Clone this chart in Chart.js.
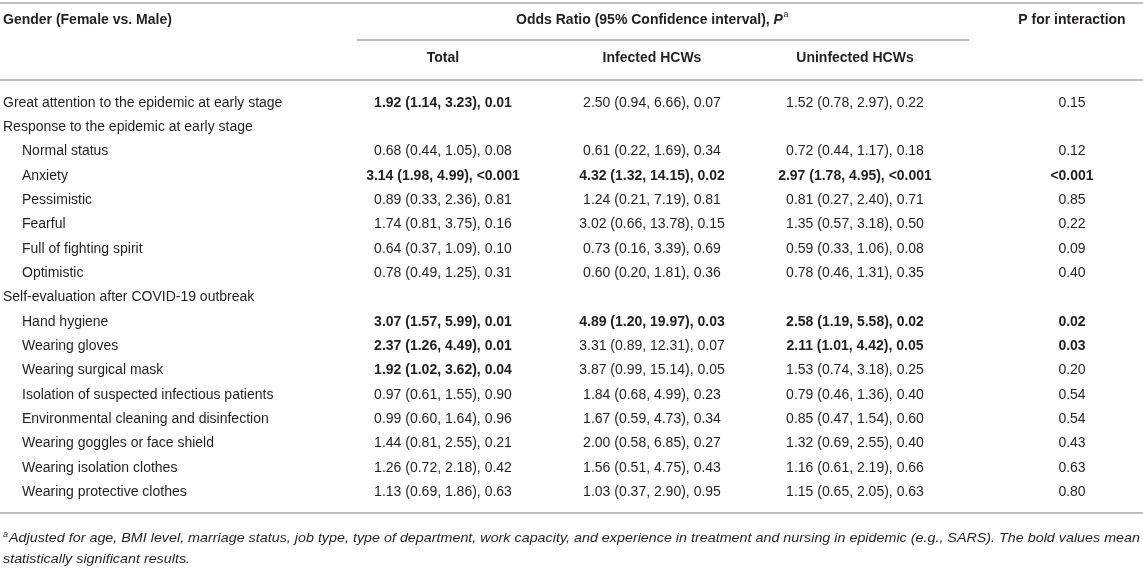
<!DOCTYPE html>
<html>
<head>
<meta charset="utf-8">
<script src="https://cdn.jsdelivr.net/npm/chart.js@4.4.1/dist/chart.umd.min.js"></script>
<style>
  html, body { margin: 0; padding: 0; background: #fff; }
  #wrap { position: relative; width: 1143px; height: 574px; }
</style>
</head>
<body>
<div id="wrap"><canvas id="tableChart"></canvas></div>
<script>
// Row labels (rows with no values are section headings)
const rowLabels = [
    'Great attention to the epidemic at early stage',
    'Response to the epidemic at early stage',
    'Normal status',
    'Anxiety',
    'Pessimistic',
    'Fearful',
    'Full of fighting spirit',
    'Optimistic',
    'Self-evaluation after COVID-19 outbreak',
    'Hand hygiene',
    'Wearing gloves',
    'Wearing surgical mask',
    'Isolation of suspected infectious patients',
    'Environmental cleaning and disinfection',
    'Wearing goggles or face shield',
    'Wearing isolation clothes',
    'Wearing protective clothes'
];

// [odds ratio, CI low, CI high, P]
const totalValues = [
    [1.92, 1.14, 3.23, '0.01'], null,
    [0.68, 0.44, 1.05, '0.08'],
    [3.14, 1.98, 4.99, '<0.001'],
    [0.89, 0.33, 2.36, '0.81'],
    [1.74, 0.81, 3.75, '0.16'],
    [0.64, 0.37, 1.09, '0.10'],
    [0.78, 0.49, 1.25, '0.31'], null,
    [3.07, 1.57, 5.99, '0.01'],
    [2.37, 1.26, 4.49, '0.01'],
    [1.92, 1.02, 3.62, '0.04'],
    [0.97, 0.61, 1.55, '0.90'],
    [0.99, 0.60, 1.64, '0.96'],
    [1.44, 0.81, 2.55, '0.21'],
    [1.26, 0.72, 2.18, '0.42'],
    [1.13, 0.69, 1.86, '0.63']
];

const infectedValues = [
    [2.50, 0.94, 6.66, '0.07'], null,
    [0.61, 0.22, 1.69, '0.34'],
    [4.32, 1.32, 14.15, '0.02'],
    [1.24, 0.21, 7.19, '0.81'],
    [3.02, 0.66, 13.78, '0.15'],
    [0.73, 0.16, 3.39, '0.69'],
    [0.60, 0.20, 1.81, '0.36'], null,
    [4.89, 1.20, 19.97, '0.03'],
    [3.31, 0.89, 12.31, '0.07'],
    [3.87, 0.99, 15.14, '0.05'],
    [1.84, 0.68, 4.99, '0.23'],
    [1.67, 0.59, 4.73, '0.34'],
    [2.00, 0.58, 6.85, '0.27'],
    [1.56, 0.51, 4.75, '0.43'],
    [1.03, 0.37, 2.90, '0.95']
];

const uninfectedValues = [
    [1.52, 0.78, 2.97, '0.22'], null,
    [0.72, 0.44, 1.17, '0.18'],
    [2.97, 1.78, 4.95, '<0.001'],
    [0.81, 0.27, 2.40, '0.71'],
    [1.35, 0.57, 3.18, '0.50'],
    [0.59, 0.33, 1.06, '0.08'],
    [0.78, 0.46, 1.31, '0.35'], null,
    [2.58, 1.19, 5.58, '0.02'],
    [2.11, 1.01, 4.42, '0.05'],
    [1.53, 0.74, 3.18, '0.25'],
    [0.79, 0.46, 1.36, '0.40'],
    [0.85, 0.47, 1.54, '0.60'],
    [1.32, 0.69, 2.55, '0.40'],
    [1.16, 0.61, 2.19, '0.66'],
    [1.15, 0.65, 2.05, '0.63']
];

const pInteraction = [
    '0.15', null, '0.12', '<0.001', '0.85', '0.22', '0.09', '0.40', null,
    '0.02', '0.03', '0.20', '0.54', '0.54', '0.43', '0.63', '0.80'
];

const headerTop = ['Gender (Female vs. Male)', 'Odds Ratio (95% Confidence interval), ', 'P for interaction'];
const groupLabels = ['Total', 'Infected HCWs', 'Uninfected HCWs'];
const footnoteLines = [
    'Adjusted for age, BMI level, marriage status, job type, type of department, work capacity, and experience in treatment and nursing in epidemic (e.g., SARS). The bold values mean',
    'statistically significant results.'
];

// layout, in scale units (x: table width, y: row index)
const FONT = '"Liberation Sans", Arial, Helvetica, sans-serif';
const TEXT = '#231f20';
const RULE = '#a8a8a8';
const colX = { label: 3, indent: 22, total: 443, infected: 652, uninfected: 855, pint: 1072 };
const rowPitch = 24.31, firstRowPx = 103;
const yAt = px => (px - firstRowPx) / rowPitch;
const lines = { top: yAt(3), group: yAt(40), head: yAt(80), bottom: yAt(513) };
const headY = { one: yAt(20), two: yAt(58) };
const footY = [yAt(538), yAt(559)];

function fmtCell(v) {
    return `${v[0].toFixed(2)} (${v[1].toFixed(2)}, ${v[2].toFixed(2)}), ${v[3]}`;
}
// significant when the CI excludes 1
function isSig(v) {
    return v[1] > 1 || v[2] < 1;
}

// label column: rows after a section heading get indented
let inSection = false;
const labelPoints = rowLabels.map((lab, i) => {
    const heading = totalValues[i] === null;
    const pt = { x: (inSection && !heading) ? colX.indent : colX.label, y: i, text: lab, bold: false, align: 'left' };
    if (heading) inSection = true;
    return pt;
});

function valuePoints(values, x) {
    const pts = [];
    values.forEach((v, i) => {
        if (v) pts.push({ x: x, y: i, text: fmtCell(v), bold: isSig(v), align: 'center' });
    });
    return pts;
}

const pintPoints = [];
pInteraction.forEach((p, i) => {
    if (p) pintPoints.push({ x: colX.pint, y: i, text: p, bold: parseFloat(p.replace('<', '')) < 0.05, align: 'center' });
});

const tablePlugin = {
    id: 'tableText',
    afterDatasetsDraw(chart) {
        const ctx = chart.ctx;
        const xs = chart.scales.x, ys = chart.scales.y;
        const left = xs.getPixelForValue(0), right = xs.getPixelForValue(1143);

        ctx.save();
        // rules
        ctx.strokeStyle = RULE;
        ctx.lineWidth = 1.5;
        const hline = (y, x0, x1) => {
            const py = ys.getPixelForValue(y);
            ctx.beginPath(); ctx.moveTo(x0, py); ctx.lineTo(x1, py); ctx.stroke();
        };
        hline(lines.top, left, right);
        hline(lines.group, xs.getPixelForValue(357), xs.getPixelForValue(969));
        hline(lines.head, left, right);
        hline(lines.bottom, left, right);

        ctx.fillStyle = TEXT;
        ctx.textBaseline = 'middle';

        // header row 1
        const h1 = ys.getPixelForValue(headY.one);
        ctx.font = `bold 14px ${FONT}`;
        ctx.textAlign = 'left';
        ctx.fillText(headerTop[0], xs.getPixelForValue(colX.label), h1);
        ctx.textAlign = 'center';
        ctx.fillText(headerTop[2], xs.getPixelForValue(colX.pint), h1);

        // "Odds Ratio ..., P^a" built from parts
        const wMain = ctx.measureText(headerTop[1]).width;
        ctx.font = `italic bold 14px ${FONT}`;
        const wP = ctx.measureText('P').width;
        ctx.font = `9px ${FONT}`;
        const wA = ctx.measureText('a').width;
        let hx = xs.getPixelForValue(colX.infected) - (wMain + wP + wA) / 2;
        ctx.textAlign = 'left';
        ctx.font = `bold 14px ${FONT}`;
        ctx.fillText(headerTop[1], hx, h1);
        hx += wMain;
        ctx.font = `italic bold 14px ${FONT}`;
        ctx.fillText('P', hx, h1);
        hx += wP + 0.5;
        ctx.font = `9px ${FONT}`;
        ctx.fillText('a', hx, h1 - 5);

        // header row 2
        const h2 = ys.getPixelForValue(headY.two);
        ctx.font = `bold 14px ${FONT}`;
        ctx.textAlign = 'center';
        [colX.total, colX.infected, colX.uninfected].forEach((cx, k) => {
            ctx.fillText(groupLabels[k], xs.getPixelForValue(cx), h2);
        });

        // cells, placed at the dataset elements
        chart.data.datasets.forEach((ds, d) => {
            const meta = chart.getDatasetMeta(d);
            meta.data.forEach((el, i) => {
                const pt = ds.data[i];
                ctx.font = `${pt.bold ? 'bold ' : ''}14px ${FONT}`;
                ctx.textAlign = pt.align;
                ctx.fillText(pt.text, el.x, el.y);
            });
        });

        // footnote, italic and condensed to fit the width
        ctx.textAlign = 'left';
        ctx.font = `italic 9px ${FONT}`;
        ctx.fillText('a', left + 3, ys.getPixelForValue(footY[0]) - 4);
        ctx.font = `italic 13.5px ${FONT}`;
        const fx = left + 9;
        const sx = (right - 3 - fx) / ctx.measureText(footnoteLines[0]).width;
        footnoteLines.forEach((t, k) => {
            ctx.save();
            ctx.translate(k === 0 ? fx : left + 3, ys.getPixelForValue(footY[k]));
            ctx.scale(sx, 1);
            ctx.fillText(t, 0, 0);
            ctx.restore();
        });
        ctx.restore();
    }
};

function cellDataset(label, data) {
    return { label: label, data: data, pointRadius: 0, pointHoverRadius: 0, showLine: false };
}

new Chart(document.getElementById('tableChart'), {
    type: 'scatter',
    data: {
        datasets: [
            cellDataset('Label', labelPoints),
            cellDataset('Total', valuePoints(totalValues, colX.total)),
            cellDataset('Infected HCWs', valuePoints(infectedValues, colX.infected)),
            cellDataset('Uninfected HCWs', valuePoints(uninfectedValues, colX.uninfected)),
            cellDataset('P for interaction', pintPoints)
        ]
    },
    options: {
        responsive: true,
        maintainAspectRatio: false,
        animation: false,
        layout: { padding: 0 },
        scales: {
            x: { type: 'linear', display: false, min: 0, max: 1143 },
            y: { type: 'linear', display: false, reverse: true, min: yAt(0), max: yAt(574) }
        },
        plugins: { legend: { display: false }, tooltip: { enabled: false } },
        events: []
    },
    plugins: [tablePlugin]
});
</script>
</body>
</html>
